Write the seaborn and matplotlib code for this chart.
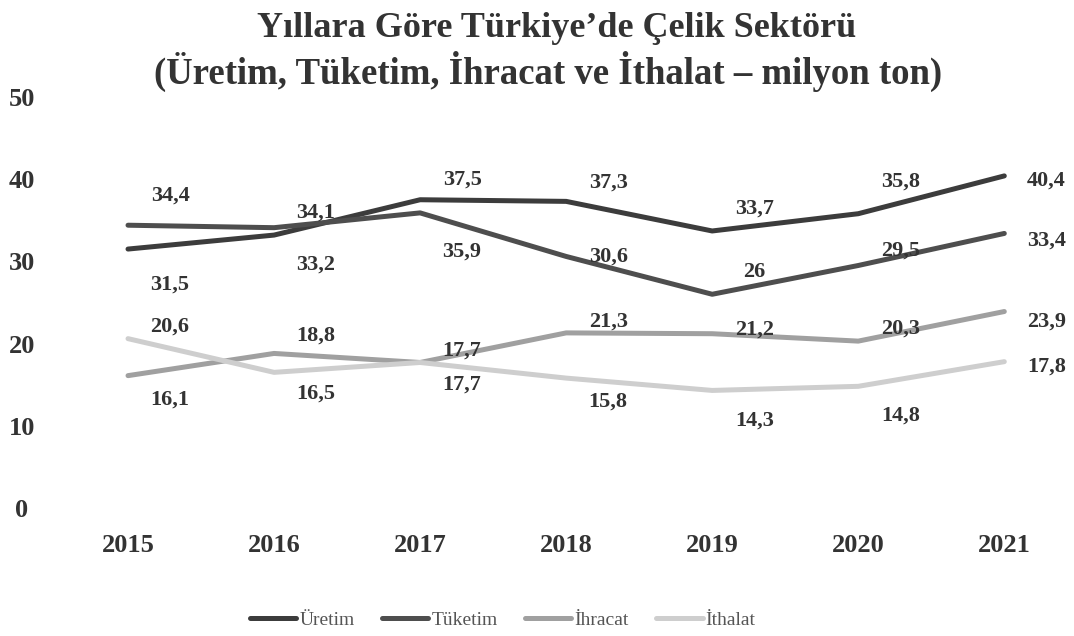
import pandas as pd
import seaborn as sns
import matplotlib.pyplot as plt

years=[2015,2016,2017,2018,2019,2020,2021]
uretim=[31.5,33.2,37.5,37.3,33.7,35.8,40.4]
tuketim=[34.4,34.1,35.9,30.6,26,29.5,33.4]
ihracat=[16.1,18.8,17.7,21.3,21.2,20.3,23.9]
ithalat=[20.6,16.5,17.7,15.8,14.3,14.8,17.8]
series_names=['Üretim','Tüketim','İhracat','İthalat']
y_ticks=[0,10,20,30,40,50]

df=pd.DataFrame({'Yıl':years,'Üretim':uretim,'Tüketim':tuketim,'İhracat':ihracat,'İthalat':ithalat})
df=pd.melt(df,'Yıl',var_name='Seri',value_name='Değer')

sns.set_style('white')
plt.rcParams['font.family']=['Liberation Serif','DejaVu Serif']

palette={'Üretim':'#3c3c3c','Tüketim':'#4e4e4e','İhracat':'#a0a0a0','İthalat':'#cecece'}

fig=plt.figure(figsize=(10.74,6.36),dpi=100)
ax=fig.add_axes([0.0512,0.2013,0.9451,0.6462])
sns.lineplot(data=df,x='Yıl',y='Değer',hue='Seri',hue_order=series_names,
             palette=palette,linewidth=3.6,ax=ax)

ax.set_xlim(2014.5,2021.45)
ax.set_ylim(0,50)
ax.set_xticks(years)
ax.set_yticks(y_ticks)
ax.set_xlabel('')
ax.set_ylabel('')
sns.despine(ax=ax,left=True,bottom=True)
ax.tick_params(axis='x',length=0,pad=19,labelsize=19,labelcolor='#333333')
ax.tick_params(axis='y',length=0,pad=24,labelsize=19,labelcolor='#333333')
for t in ax.get_xticklabels()+ax.get_yticklabels():
    t.set_fontweight('bold')
for t in ax.get_yticklabels():
    t.set_horizontalalignment('center')

# label offsets in pixels (+ = down in the picture)
offsets={
    'Üretim':[36,30,-20,-19,-22,-32,5],
    'Tüketim':[-30,-15,39,0,-22,-15,7],
    'İhracat':[24,-18,-12,-11,-4,-13,10],
    'İthalat':[-12,21,22,23,30,29,5],
}
values={'Üretim':uretim,'Tüketim':tuketim,'İhracat':ihracat,'İthalat':ithalat}
for name in series_names:
    for x,v,dy in zip(years,values[name],offsets[name]):
        txt=('%g'%v).replace('.',',')
        ax.annotate(txt,(x,v),xytext=(42,-dy),textcoords='offset pixels',
                    ha='center',va='center',fontsize=16,fontweight='bold',color='#333333')

handles,labels=ax.get_legend_handles_labels()
ax.legend_.remove()
fig.legend(handles,labels,loc='center',bbox_to_anchor=(0.468,0.025),ncol=4,frameon=False,
           fontsize=14,handlelength=2.4,handletextpad=0.15,columnspacing=1.4,labelcolor='#555555')

fig.text(0.518,0.955,'Yıllara Göre Türkiye’de Çelik Sektörü',ha='center',va='center',
         fontsize=26,fontweight='bold',color='#333333')
fig.text(0.51,0.887,'(Üretim, Tüketim, İhracat ve İthalat – milyon ton)',ha='center',va='center',
         fontsize=26.5,fontweight='bold',color='#333333')

fig.savefig('out.png',dpi=100)
